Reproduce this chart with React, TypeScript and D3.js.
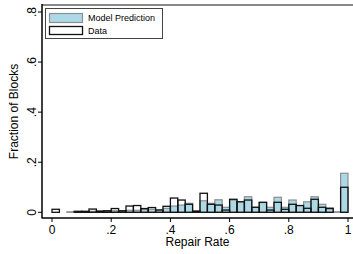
import React, { useEffect, useRef } from 'react';
import * as d3 from 'd3';

// histogram bins (width .025)
const binStarts = [
  0, 0.025, 0.05, 0.075, 0.1, 0.125, 0.15, 0.175, 0.2, 0.225,
  0.25, 0.275, 0.3, 0.325, 0.35, 0.375, 0.4, 0.425, 0.45, 0.475,
  0.5, 0.525, 0.55, 0.575, 0.6, 0.625, 0.65, 0.675, 0.7, 0.725,
  0.75, 0.775, 0.8, 0.825, 0.85, 0.875, 0.9, 0.925, 0.95, 0.975,
];
const binWidth = 0.025;

const modelPrediction = [
  0, 0, 0.002, 0.002, 0.003, 0.004, 0.004, 0.005, 0.006, 0.006,
  0.008, 0.008, 0.011, 0.012, 0.01, 0.016, 0.025, 0.029, 0.036, 0.004,
  0.046, 0.036, 0.05, 0.02, 0.049, 0.042, 0.062, 0.02, 0.039, 0.02,
  0.06, 0.02, 0.049, 0.027, 0.042, 0.062, 0.032, 0.018, 0.002, 0.156,
];

const observed = [
  0.012, 0, 0, 0.004, 0.004, 0.013, 0.005, 0.006, 0.015, 0.006,
  0.025, 0.027, 0.015, 0.019, 0.009, 0.024, 0.057, 0.049, 0.032, 0.005,
  0.076, 0.032, 0.029, 0.009, 0.052, 0.042, 0.049, 0.02, 0.04, 0.009,
  0.04, 0.012, 0.032, 0.027, 0.016, 0.052, 0.02, 0.015, 0, 0.1,
];

const xTicks = [0, 0.2, 0.4, 0.6, 0.8, 1];
const yTicks = [0, 0.2, 0.4, 0.6, 0.8];
const fmt = (d: number) => (d === 0 || d === 1 ? String(d) : d3.format('.1f')(d).replace(/^0/, ''));

function Histogram() {
  const ref = useRef<SVGSVGElement>(null);

  useEffect(() => {
    const svg = d3.select(ref.current);
    svg.selectAll('*').remove();

    const axisLeft = 42, axisBottom = 218, right = 353, top = 5;

    let x = d3.scaleLinear().domain([0, 1]).range([52, 348]);
    let y = d3.scaleLinear().domain([0, 0.8]).range([212.3, 12]);

    const bins = binStarts.map((b, i) => ({ x0: b, m: modelPrediction[i], d: observed[i] }));

    // model bars
    svg.append('g')
      .selectAll('rect')
      .data(bins.filter(b => b.m > 0))
      .join('rect')
      .attr('x', d => x(d.x0))
      .attr('width', d => x(d.x0 + binWidth) - x(d.x0))
      .attr('y', d => y(d.m))
      .attr('height', d => y(0) - y(d.m))
      .attr('fill', '#add8e6')
      .attr('stroke', '#8a8f91')
      .attr('stroke-width', 1.2);

    // data bars
    svg.append('g')
      .selectAll('rect')
      .data(bins.filter(b => b.d > 0))
      .join('rect')
      .attr('x', d => x(d.x0))
      .attr('width', d => x(d.x0 + binWidth) - x(d.x0))
      .attr('y', d => y(d.d))
      .attr('height', d => y(0) - y(d.d))
      .attr('fill', 'none')
      .attr('stroke', '#111')
      .attr('stroke-width', 1.3);

    // top border
    svg.append('line')
      .attr('x1', axisLeft).attr('x2', right)
      .attr('y1', top).attr('y2', top)
      .attr('stroke', '#888').attr('stroke-width', 2);

    // x axis
    const gx = svg.append('g');
    gx.append('line')
      .attr('x1', axisLeft - 0.5).attr('x2', right)
      .attr('y1', axisBottom).attr('y2', axisBottom)
      .attr('stroke', '#000').attr('stroke-width', 1.5);
    gx.selectAll('.tick')
      .data(xTicks)
      .join('line')
      .attr('x1', d => x(d)).attr('x2', d => x(d))
      .attr('y1', axisBottom).attr('y2', axisBottom + 4)
      .attr('stroke', '#000').attr('stroke-width', 1);
    gx.selectAll('text')
      .data(xTicks)
      .join('text')
      .attr('x', d => x(d))
      .attr('y', 233.5)
      .attr('text-anchor', 'middle')
      .style('font-size', '12px')
      .text(fmt);
    svg.append('text')
      .attr('x', (axisLeft + right) / 2)
      .attr('y', 246)
      .attr('text-anchor', 'middle')
      .style('font-size', '12px')
      .text('Repair Rate');

    // y axis
    const gy = svg.append('g');
    gy.append('line')
      .attr('x1', axisLeft).attr('x2', axisLeft)
      .attr('y1', top - 1).attr('y2', axisBottom)
      .attr('stroke', '#000').attr('stroke-width', 1.5);
    gy.selectAll('.tick')
      .data(yTicks)
      .join('line')
      .attr('x1', axisLeft - 4).attr('x2', axisLeft)
      .attr('y1', d => y(d)).attr('y2', d => y(d))
      .attr('stroke', '#000').attr('stroke-width', 1);
    gy.selectAll('text')
      .data(yTicks)
      .join('text')
      .attr('transform', d => `translate(35.5,${y(d)}) rotate(-90)`)
      .attr('text-anchor', 'middle')
      .style('font-size', '12px')
      .text(fmt);
    svg.append('text')
      .attr('transform', `translate(18,${(top + axisBottom) / 2}) rotate(-90)`)
      .attr('text-anchor', 'middle')
      .style('font-size', '12px')
      .text('Fraction of Blocks');

    // legend
    const lg = svg.append('g');
    lg.append('rect')
      .attr('x', 45.5).attr('y', 8.5).attr('width', 117).attr('height', 30)
      .attr('fill', '#fff').attr('stroke', '#444').attr('stroke-width', 1);
    lg.append('rect')
      .attr('x', 49.5).attr('y', 13.5).attr('width', 33).attr('height', 9)
      .attr('fill', '#add8e6').attr('stroke', '#8a8f91').attr('stroke-width', 1.2);
    lg.append('rect')
      .attr('x', 49.5).attr('y', 26.5).attr('width', 33).attr('height', 8)
      .attr('fill', 'none').attr('stroke', '#111').attr('stroke-width', 1.3);
    lg.append('text').attr('x', 88).attr('y', 21).style('font-size', '9px').text('Model Prediction');
    lg.append('text').attr('x', 88).attr('y', 33.5).style('font-size', '9px').text('Data');
  });

  return (
    <svg ref={ref} width={353} height={254}
      style={{ position: 'absolute', left: 0, top: 0, background: '#fff', fontFamily: 'Liberation Sans, Arial, sans-serif' }} />
  );
}

export default function App() {
  return <Histogram />;
}
